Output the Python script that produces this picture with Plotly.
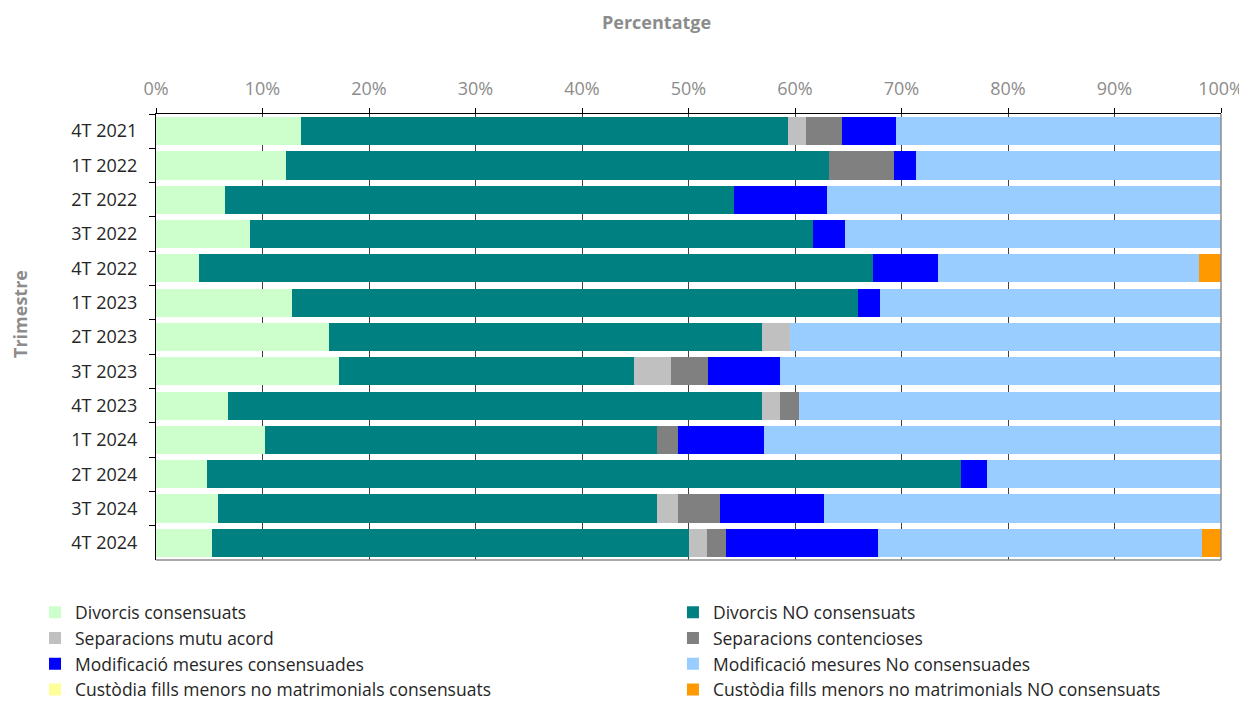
import plotly.graph_objects as go

trimestres = ["4T 2021", "1T 2022", "2T 2022", "3T 2022", "4T 2022", "1T 2023", "2T 2023",
              "3T 2023", "4T 2023", "1T 2024", "2T 2024", "3T 2024", "4T 2024"]

divorcis_cons = [13.6, 12.25, 6.5, 8.8, 4.0, 12.8, 16.2, 17.2, 6.8, 10.2, 4.8, 5.8, 5.3]
divorcis_no_cons = [45.7, 50.95, 47.8, 52.9, 63.3, 53.1, 40.7, 27.7, 50.1, 36.8, 70.8, 41.25, 44.7]
separacions_mutu = [1.75, 0, 0, 0, 0, 0, 2.65, 3.45, 1.7, 0, 0, 1.95, 1.75]
separacions_cont = [3.35, 6.1, 0, 0, 0, 0, 0, 3.45, 1.75, 2.0, 0, 3.95, 1.8]
modif_cons = [5.1, 2.1, 8.7, 3.0, 6.1, 2.1, 0, 6.8, 0, 8.1, 2.4, 9.75, 14.25]
modif_no_cons = [30.5, 28.6, 37.0, 35.3, 24.5, 32.0, 40.45, 41.4, 39.65, 42.9, 22.0, 37.3, 30.4]
custodia_cons = [0] * 13
custodia_no_cons = [0, 0, 0, 0, 2.1, 0, 0, 0, 0, 0, 0, 0, 1.8]

series = [
    ("Divorcis consensuats", divorcis_cons, "#CCFFCC"),
    ("Divorcis NO consensuats", divorcis_no_cons, "#008080"),
    ("Separacions mutu acord", separacions_mutu, "#C0C0C0"),
    ("Separacions contencioses", separacions_cont, "#808080"),
    ("Modificació mesures consensuades", modif_cons, "#0000FF"),
    ("Modificació mesures No consensuades", modif_no_cons, "#99CCFF"),
    ("Custòdia fills menors no matrimonials consensuats", custodia_cons, "#FFFF99"),
    ("Custòdia fills menors no matrimonials NO consensuats", custodia_no_cons, "#FF9900"),
]

FONT = "Open Sans"
GRAY_TXT = "#8c8c8c"
fig = go.Figure()
for i, (name, vals, col) in enumerate(series):
    fig.add_trace(go.Bar(
        y=trimestres, x=vals, name=name, orientation="h",
        marker=dict(color=col, line=dict(width=0)),
        legend="legend" if i % 2 == 0 else "legend2",
    ))

legend_common = dict(
    orientation="v", yanchor="top", xanchor="left",
    font=dict(family=FONT, size=17.5, color="#262626"),
    traceorder="normal", itemwidth=30, tracegroupgap=0,
    bgcolor="rgba(0,0,0,0)",
)

fig.update_layout(
    barmode="stack",
    bargap=0.18,
    width=1239, height=694,
    margin=dict(l=148, r=26, t=106, b=142, autoexpand=False),
    paper_bgcolor="white", plot_bgcolor="white",
    font=dict(family=FONT, size=18, color="#262626"),
    legend=dict(x=-0.1136, y=-0.0769, **legend_common),
    legend2=dict(x=0.4854, y=-0.0769, **legend_common),
    xaxis=dict(
        side="top", range=[0, 100], dtick=10, ticksuffix="%",
        tickfont=dict(color=GRAY_TXT, size=18),
        ticklabelstandoff=6,
        showgrid=True, gridcolor="#404040", gridwidth=1,
        showline=True, linecolor="black", linewidth=1,
        ticks="outside", ticklen=5, tickcolor="black",
        zeroline=False,
    ),
    yaxis=dict(
        autorange="reversed", tickson="boundaries",
        showline=True, linecolor="black", linewidth=1,
        ticks="outside", ticklen=6, tickcolor="black",
        ticklabelstandoff=14,
        tickfont=dict(color="#262626", size=18),
    ),
    annotations=[
        dict(text="<b>Percentatge</b>", xref="paper", yref="paper", x=0.4704, y=1.2063,
             xanchor="center", yanchor="middle", showarrow=False,
             font=dict(family=FONT, size=18, color=GRAY_TXT)),
        dict(text="<b>Trimestre</b>", xref="paper", yref="paper", x=-0.1277, y=0.5516,
             xanchor="center", yanchor="middle", showarrow=False, textangle=-90,
             borderpad=0,
             font=dict(family=FONT, size=18, color=GRAY_TXT)),
    ],
)

# gray right and bottom borders of the plot area
fig.add_shape(type="line", xref="paper", yref="paper", x0=1, x1=1, y0=0, y1=1,
              line=dict(color="#8c8c8c", width=1.5))
fig.add_shape(type="line", xref="paper", yref="paper", x0=0, x1=1, y0=0, y1=0,
              line=dict(color="#8c8c8c", width=1.5))

fig.write_html("out.html")
